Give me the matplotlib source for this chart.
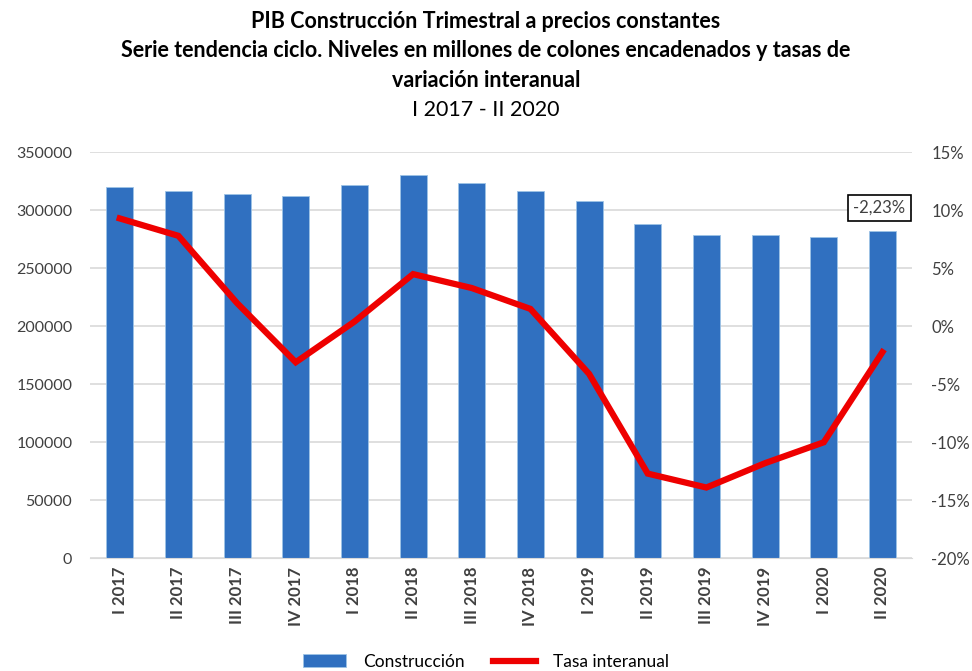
import matplotlib.pyplot as plt
import numpy as np

# Data
quarters = ["I 2017", "II 2017", "III 2017", "IV 2017", "I 2018", "II 2018", "III 2018",
            "IV 2018", "I 2019", "II 2019", "III 2019", "IV 2019", "I 2020", "II 2020"]
construccion = [320500, 316400, 314200, 312100, 321500, 330600, 323700,
                316400, 307700, 288400, 278900, 278400, 277200, 281900]
tasa = [9.3, 7.8, 2.0, -3.1, 0.4, 4.5, 3.3, 1.5, -4.1, -12.7, -13.9, -11.8, -10.0, -2.23]
left_ticks = [0, 50000, 100000, 150000, 200000, 250000, 300000, 350000]
right_ticks = [-20, -15, -10, -5, 0, 5, 10, 15]

plt.rcParams['font.family'] = ['Lato', 'DejaVu Sans']

fig = plt.figure(figsize=(9.72, 6.71), dpi=100)
ax = fig.add_axes([0.093, 0.168, 0.845, 0.605])
ax2 = ax.twinx()

x = np.arange(len(quarters))
bars = ax.bar(x, construccion, width=0.46, color="#3070C0", edgecolor="#9DC3E6",
              linewidth=0.6, label="Construcción", zorder=2)
line, = ax2.plot(x, tasa, color="#EE0000", linewidth=4.5, solid_joinstyle="miter",
                 label="Tasa interanual", zorder=3)

ax.set_xlim(-0.5, len(quarters) - 0.5)
ax.set_ylim(0, 350000)
ax.set_yticks(left_ticks)
ax.set_yticklabels([str(v) for v in left_ticks], fontsize=11.5, color="#404040")
ax2.set_ylim(-20, 15)
ax2.set_yticks(right_ticks)
ax2.set_yticklabels([f"{v}%" for v in right_ticks], fontsize=12, color="#404040")

ax.set_xticks(x)
ax.set_xticklabels(quarters, rotation=90, fontsize=12, fontweight="bold", color="#404040")

ax.grid(axis="y", color="#D9D9D9", linewidth=1.2, zorder=0)
ax.set_axisbelow(True)
for a in (ax, ax2):
    for s in ("top", "left", "right"):
        a.spines[s].set_visible(False)
    a.tick_params(length=0)
ax.spines["bottom"].set_color("#D9D9D9")
ax2.spines["bottom"].set_visible(False)
ax.tick_params(axis="y", pad=13)
ax2.tick_params(axis="y", pad=14)
ax.tick_params(axis="x", pad=6)

ax2.text(x[-1] - 0.05, 10.2, "-2,23%", ha="center", va="center", fontsize=12, color="#404040",
         bbox=dict(boxstyle="square,pad=0.3", facecolor="white", edgecolor="black", linewidth=1.2),
         zorder=5)

fig.text(0.5, 0.968, "PIB Construcción Trimestral a precios constantes", ha="center", va="center",
         fontsize=15.5, fontweight="bold", color="black")
fig.text(0.5, 0.924, "Serie tendencia ciclo. Niveles en millones de colones encadenados y tasas de",
         ha="center", va="center", fontsize=15.5, fontweight="bold", color="black")
fig.text(0.5, 0.880, "variación interanual", ha="center", va="center", fontsize=15.5,
         fontweight="bold", color="black")
fig.text(0.5, 0.836, "I 2017 - II 2020", ha="center", va="center", fontsize=15.5, color="black")

fig.legend(handles=[bars, line], labels=["Construcción", "Tasa interanual"],
           loc="center", bbox_to_anchor=(0.5, 0.014), ncol=2, frameon=False,
           fontsize=12.5, handlelength=2.5, columnspacing=1.6, handletextpad=1.0)

fig.savefig("out.png", dpi=100)
